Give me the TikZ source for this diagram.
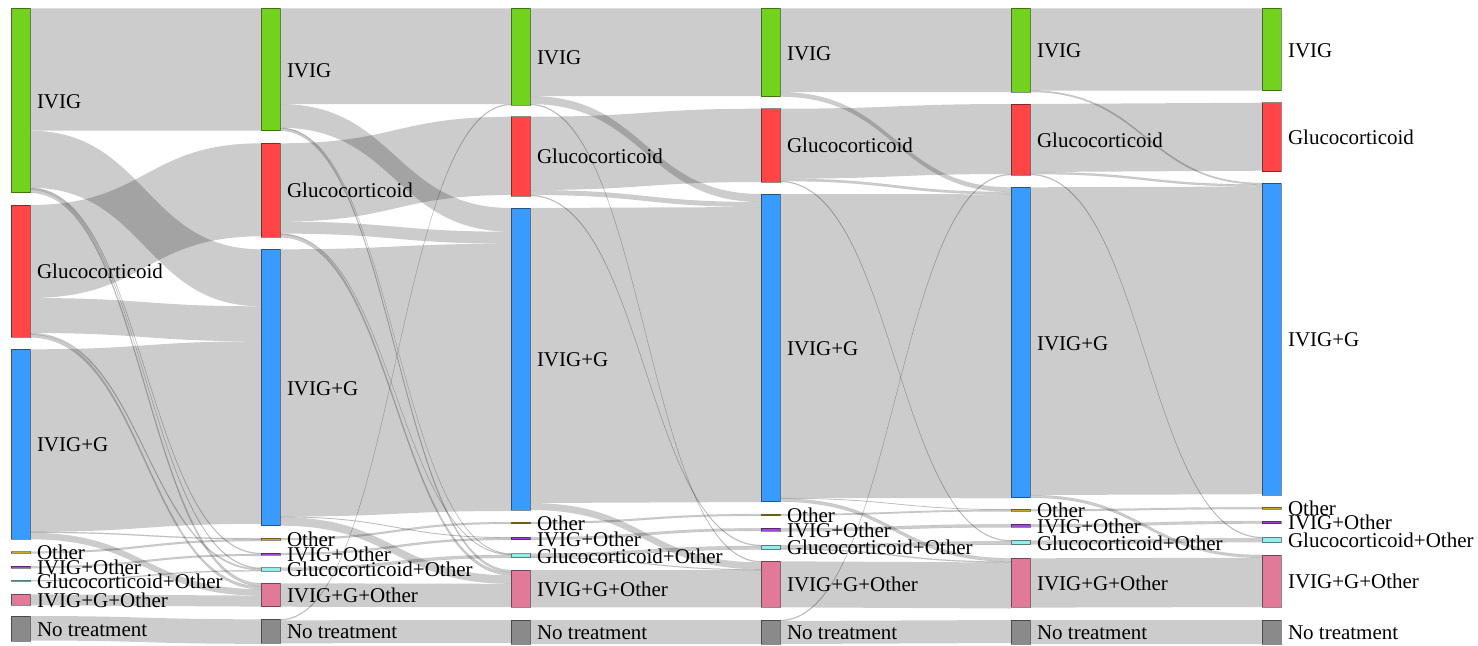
\documentclass[tikz,border=0pt]{standalone}
\usepackage{fontspec}
\setmainfont{Liberation Serif}
\definecolor{cIVIG}{HTML}{72D21E}
\definecolor{cG}{HTML}{FF4545}
\definecolor{cIG}{HTML}{3A9BFF}
\definecolor{cO}{HTML}{C9AA22}
\definecolor{cIO}{HTML}{A346E0}
\definecolor{cGO}{HTML}{95ECEC}
\definecolor{cIGO}{HTML}{E07A98}
\definecolor{cNT}{HTML}{8A8A8A}
\tikzset{
  band/.style={fill=black, fill opacity=0.2},
  thinband/.style={fill=black, fill opacity=0.2, draw=black, draw opacity=0.12, line width=0.2pt},
  nodebox/.style={rectangle, draw=black, draw opacity=0.45, line width=0.5pt, inner sep=0pt, outer sep=0pt, minimum width=9.5pt},
  lbl/.style={anchor=base west, inner sep=0pt, outer sep=0pt, font=\fontsize{10.5pt}{12pt}\selectfont, text=black},
}
% node geometry: name, x (left), top, height  (pixel units)
\newcommand\defnode[4]{%
  \expandafter\xdef\csname nx#1\endcsname{#2}%
  \expandafter\xdef\csname nt#1\endcsname{#3}%
  \expandafter\xdef\csname nh#1\endcsname{#4}%
  \expandafter\xdef\csname no#1\endcsname{#3}%
  \expandafter\xdef\csname ni#1\endcsname{#3}%
}
% flow band from source node to target node with a value (thickness)
\newcommand\flow[3]{%
  \edef\flXa{\fpeval{\csname nx#1\endcsname+19}}%
  \edef\flXb{\fpeval{\csname nx#2\endcsname}}%
  \edef\flYa{\fpeval{\csname no#1\endcsname}}%
  \edef\flYb{\fpeval{\csname ni#2\endcsname}}%
  \edef\flYc{\fpeval{\flYa+#3}}%
  \edef\flYd{\fpeval{\flYb+#3}}%
  \edef\flXm{\fpeval{(\flXa+\flXb)/2}}%
  \ifdim #3pt<4pt \tikzset{curband/.style={thinband}}\else\tikzset{curband/.style={band}}\fi
  \path[curband] (\flXa,\flYa) .. controls (\flXm,\flYa) and (\flXm,\flYb) .. (\flXb,\flYb)
     -- (\flXb,\flYd) .. controls (\flXm,\flYd) and (\flXm,\flYc) .. (\flXa,\flYc) -- cycle;
  \expandafter\xdef\csname no#1\endcsname{\flYc}%
  \expandafter\xdef\csname ni#2\endcsname{\flYd}%
}
\newcommand\drawnode[3]{%
  \edef\snX{\fpeval{\csname nx#1\endcsname+9.5}}%
  \edef\snY{\fpeval{\csname nt#1\endcsname+\csname nh#1\endcsname/2}}%
  \edef\snH{\fpeval{\csname nh#1\endcsname*0.5}}%
  \edef\snLX{\fpeval{\csname nx#1\endcsname+26}}%
  \edef\snLY{\fpeval{\snY+7.5}}%
  \node[nodebox, fill=#2, minimum height=\snH pt] (#1) at (\snX,\snY) {};
  \node[lbl] (#1-l) at (\snLX,\snLY) {#3};
}
\begin{document}
\begin{tikzpicture}[x=0.5pt,y=-0.5pt]
\useasboundingbox (0,0) rectangle (1478,645);
% ---- column 0
\defnode{IVIG0}{11}{8.3}{184.4}
\defnode{G0}{11}{205}{132.3}
\defnode{IG0}{11}{349.3}{190}
\defnode{O0}{11}{551.5}{1.8}
\defnode{IO0}{11}{566.3}{1.8}
\defnode{GO0}{11}{580.2}{1.2}
\defnode{IGO0}{11}{594.3}{11}
\defnode{NT0}{11}{616}{25}
% ---- column 1
\defnode{IVIG1}{261}{8.3}{122.4}
\defnode{G1}{261}{143.3}{94}
\defnode{IG1}{261}{249.3}{276.4}
\defnode{O1}{261}{538.2}{1.8}
\defnode{IO1}{261}{553}{2}
\defnode{GO1}{261}{567.7}{3.3}
\defnode{IGO1}{261}{583.3}{23.4}
\defnode{NT1}{261}{619.3}{24}
% ---- column 2
\defnode{IVIG2}{511}{8.3}{96.7}
\defnode{G2}{511}{116.7}{79.3}
\defnode{IG2}{511}{208}{302}
\defnode{O2}{511}{522}{1.8}
\defnode{IO2}{511}{537.3}{2.5}
\defnode{GO2}{511}{553.5}{4.3}
\defnode{IGO2}{511}{570}{37.3}
\defnode{NT2}{511}{620}{24}
% ---- column 3
\defnode{IVIG3}{761}{8.3}{88.4}
\defnode{G3}{761}{108.7}{73.3}
\defnode{IG3}{761}{194}{307.7}
\defnode{O3}{761}{514}{1.8}
\defnode{IO3}{761}{528.3}{3}
\defnode{GO3}{761}{545}{4.5}
\defnode{IGO3}{761}{561.3}{46}
\defnode{NT3}{761}{620}{24}
% ---- column 4
\defnode{IVIG4}{1011}{8.3}{83.7}
\defnode{G4}{1011}{104}{71}
\defnode{IG4}{1011}{187.3}{310.4}
\defnode{O4}{1011}{509.3}{1.8}
\defnode{IO4}{1011}{524.3}{3}
\defnode{GO4}{1011}{540.3}{4.4}
\defnode{IGO4}{1011}{558.3}{49}
\defnode{NT4}{1011}{620}{24}
% ---- column 5
\defnode{IVIG5}{1262}{8.3}{82.4}
\defnode{G5}{1262}{102.7}{69}
\defnode{IG5}{1262}{183}{312}
\defnode{O5}{1262}{507.3}{1.8}
\defnode{IO5}{1262}{521}{2.7}
\defnode{GO5}{1262}{537}{5.5}
\defnode{IGO5}{1262}{555}{52.3}
\defnode{NT5}{1262}{620}{24}
% ================= flows 0 -> 1
\flow{IVIG0}{IVIG1}{122.4}
\flow{IVIG0}{IG1}{57}
\flow{IVIG0}{IO1}{1}
\flow{IVIG0}{GO1}{1}
\flow{IVIG0}{IGO1}{3}
\flow{G0}{G1}{93}
\flow{G0}{IG1}{35}
\flow{G0}{GO1}{1.5}
\flow{G0}{IGO1}{2.8}
\flow{IG0}{IG1}{182.5}
\flow{IG0}{O1}{1}
\flow{IG0}{IGO1}{6.5}
\flow{O0}{O1}{1.8}
\flow{IO0}{IO1}{1.8}
\flow{GO0}{GO1}{1}
\flow{IGO0}{IGO1}{11}
\flow{NT0}{NT1}{24.5}
% ================= flows 1 -> 2
\flow{IVIG1}{IVIG2}{95.7}
\flow{IVIG1}{IG2}{23.7}
\flow{IVIG1}{GO2}{0.7}
\flow{IVIG1}{IGO2}{2.3}
\flow{G1}{G2}{78.3}
\flow{G1}{IG2}{12}
\flow{G1}{GO2}{0.7}
\flow{G1}{IGO2}{3}
\flow{IG1}{IG2}{267.3}
\flow{IG1}{IO2}{0.6}
\flow{IG1}{IGO2}{8.5}
\flow{O1}{O2}{1.8}
\flow{IO1}{IO2}{2}
\flow{GO1}{GO2}{3}
\flow{IGO1}{IGO2}{23.4}
\flow{NT1}{IVIG2}{1}
\flow{NT1}{NT2}{23}
% ================= flows 2 -> 3
\flow{IVIG2}{IVIG3}{87.7}
\flow{IVIG2}{IG3}{8}
\flow{IVIG2}{IGO3}{1}
\flow{G2}{G3}{73.3}
\flow{G2}{IG3}{5}
\flow{G2}{GO3}{1}
\flow{IG2}{IG3}{295}
\flow{IG2}{IGO3}{7}
\flow{O2}{O3}{1.8}
\flow{IO2}{IO3}{2.5}
\flow{GO2}{GO3}{3.5}
\flow{GO2}{IGO3}{0.8}
\flow{IGO2}{IGO3}{37.3}
\flow{NT2}{NT3}{24}
% ================= flows 3 -> 4
\flow{IVIG3}{IVIG4}{83.7}
\flow{IVIG3}{IG4}{4.7}
\flow{G3}{G4}{70}
\flow{G3}{IG4}{2.3}
\flow{G3}{GO4}{1}
\flow{IG3}{IG4}{304}
\flow{IG3}{O4}{0.5}
\flow{IG3}{IGO4}{3.2}
\flow{O3}{O4}{1.5}
\flow{IO3}{IO4}{3}
\flow{GO3}{GO4}{3.5}
\flow{GO3}{IGO4}{1}
\flow{IGO3}{IGO4}{46}
\flow{NT3}{G4}{1}
\flow{NT3}{NT4}{23}
% ================= flows 4 -> 5
\flow{IVIG4}{IVIG5}{82.2}
\flow{IVIG4}{IG5}{1.5}
\flow{G4}{G5}{68}
\flow{G4}{IG5}{2}
\flow{G4}{GO5}{1}
\flow{IG4}{IG5}{307.7}
\flow{IG4}{IGO5}{2.7}
\flow{O4}{O5}{1.8}
\flow{IO4}{IO5}{2.7}
\flow{GO4}{GO5}{4.4}
\flow{IGO4}{IGO5}{49.3}
\flow{NT4}{NT5}{24}
% ================= nodes and labels
\foreach \c in {0,1,2,3,4,5}{
  \drawnode{IVIG\c}{cIVIG}{IVIG}
  \drawnode{G\c}{cG}{Glucocorticoid}
  \drawnode{IG\c}{cIG}{IVIG+G}
  \drawnode{O\c}{cO}{Other}
  \drawnode{IO\c}{cIO}{IVIG+Other}
  \drawnode{GO\c}{cGO}{Glucocorticoid+Other}
  \drawnode{IGO\c}{cIGO}{IVIG+G+Other}
  \drawnode{NT\c}{cNT}{No treatment}
}
\end{tikzpicture}
\end{document}
